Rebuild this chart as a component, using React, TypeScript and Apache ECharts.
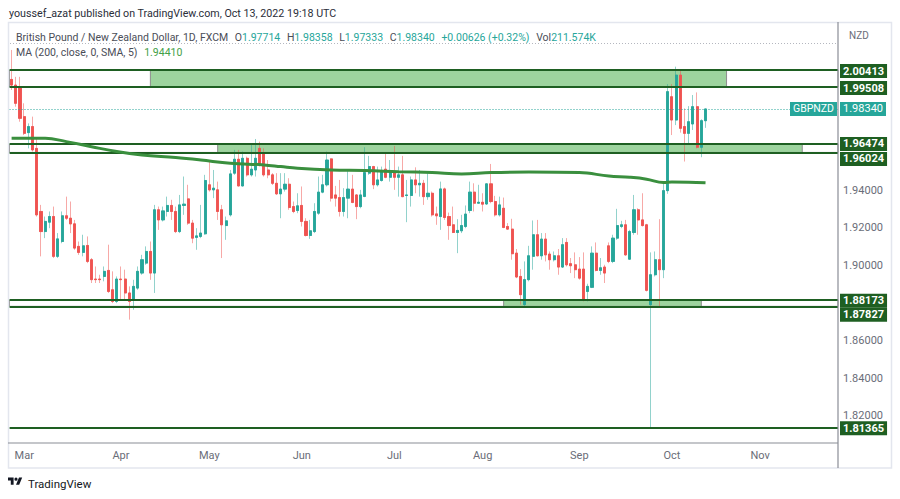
import React, { useEffect, useRef } from "react";
import * as echarts from "echarts";

// ---------- data ----------
const FIRST_SESSION = "2022-02-24";
const SLOT_COUNT = 197; // daily slots shown on the time axis (incl. empty future space)
const MONTH_NAMES = ["Jan", "Feb", "Mar", "Apr", "May", "Jun", "Jul", "Aug", "Sep", "Oct", "Nov", "Dec"];

const open = [
  1.9991, 1.9961, 1.9952, 1.9793, 1.9708, 1.974, 1.9624, 1.9288, 1.9181, 1.9231,
  1.9261, 1.9049, 1.9128, 1.9265, 1.9252, 1.9222, 1.9102, 1.907, 1.9107, 1.9031,
  1.8928, 1.8928, 1.8942, 1.8974, 1.8871, 1.8809, 1.8928, 1.8928, 1.8854, 1.8818,
  1.888, 1.896, 1.9013, 1.9075, 1.896, 1.9297, 1.9243, 1.9288, 1.932, 1.9288,
  1.9181, 1.932, 1.9355, 1.9226, 1.915, 1.9155, 1.9169, 1.943, 1.9403, 1.9403,
  1.9297, 1.9213, 1.927, 1.9492, 1.9566, 1.9424, 1.9571, 1.9483, 1.9509, 1.9624,
  1.9598, 1.9509, 1.9483, 1.9438, 1.9382, 1.9407, 1.9433, 1.9314, 1.9293, 1.932,
  1.9235, 1.916, 1.9181, 1.9279, 1.9391, 1.943, 1.9568, 1.9376, 1.9362, 1.9288,
  1.9359, 1.9407, 1.9376, 1.9314, 1.9368, 1.9492, 1.9527, 1.943, 1.9453, 1.9513,
  1.947, 1.9495, 1.947, 1.9483, 1.9373, 1.9373, 1.9456, 1.943, 1.9438, 1.9367,
  1.9385, 1.9275, 1.9261, 1.9408, 1.9261, 1.9217, 1.9176, 1.9185, 1.9208, 1.9293,
  1.9391, 1.9332, 1.9337, 1.9328, 1.9435, 1.9341, 1.927, 1.9305, 1.9208, 1.9194,
  1.9066, 1.8942, 1.8792, 1.8925, 1.9049, 1.9164, 1.9052, 1.9141, 1.9061, 1.9031,
  1.9052, 1.8992, 1.9123, 1.901, 1.9004, 1.8981, 1.8981, 1.8862, 1.8884, 1.9066,
  1.8974, 1.8992, 1.9105, 1.9022, 1.9146, 1.9208, 1.9217, 1.9034, 1.9176, 1.9297,
  1.9243, 1.9217, 1.8792, 1.8951, 1.9031, 1.8978, 1.9399, 1.9899, 1.9775, 2.0014,
  1.974, 1.9704, 1.9754, 1.9846, 1.963, 1.97714,
];
const high = [
  2.0148, 2.0005, 2.0005, 1.9864, 1.9757, 1.9793, 1.9678, 1.9323, 1.9261, 1.9288,
  1.9314, 1.9173, 1.9288, 1.9367, 1.9341, 1.9243, 1.9128, 1.9164, 1.9155, 1.904,
  1.8995, 1.8951, 1.8995, 1.9111, 1.8969, 1.8942, 1.8995, 1.8978, 1.8889, 1.8924,
  1.8995, 1.9057, 1.9102, 1.9128, 1.9323, 1.9314, 1.9314, 1.9367, 1.935, 1.9314,
  1.9376, 1.9474, 1.943, 1.9243, 1.9199, 1.9323, 1.9483, 1.9554, 1.9509, 1.9447,
  1.9323, 1.9261, 1.9509, 1.9616, 1.9616, 1.9607, 1.958, 1.9651, 1.9674, 1.966,
  1.9624, 1.9562, 1.9492, 1.9492, 1.9492, 1.9492, 1.9465, 1.9341, 1.9385, 1.9421,
  1.9252, 1.9243, 1.9332, 1.9474, 1.9483, 1.9607, 1.9571, 1.9424, 1.9456, 1.9412,
  1.9509, 1.9483, 1.938, 1.9403, 1.963, 1.9584, 1.9531, 1.9527, 1.9527, 1.9598,
  1.9562, 1.9637, 1.9527, 1.9584, 1.9456, 1.9474, 1.9523, 1.9509, 1.9456, 1.9492,
  1.9394, 1.9314, 1.9447, 1.9415, 1.9282, 1.9314, 1.9247, 1.927, 1.932, 1.9447,
  1.9438, 1.943, 1.9385, 1.9438, 1.9541, 1.9371, 1.9367, 1.9362, 1.9226, 1.9249,
  1.9088, 1.8981, 1.9022, 1.9105, 1.924, 1.9243, 1.9173, 1.9173, 1.9075, 1.9075,
  1.9088, 1.9146, 1.9146, 1.904, 1.907, 1.9045, 1.907, 1.8903, 1.9102, 1.9123,
  1.904, 1.9004, 1.9123, 1.9164, 1.9302, 1.9238, 1.9243, 1.919, 1.9376, 1.9305,
  1.9385, 1.9222, 1.907, 1.9075, 1.9247, 1.9447, 1.9966, 1.9966, 2.0059, 2.0044,
  1.9837, 1.9849, 1.9908, 1.9922, 1.9779, 1.98358,
];
const low = [
  1.9935, 1.9846, 1.9766, 1.9695, 1.9624, 1.9607, 1.9261, 1.9049, 1.9146, 1.9199,
  1.904, 1.904, 1.9119, 1.9243, 1.9173, 1.9084, 1.9057, 1.9049, 1.9013, 1.8907,
  1.8907, 1.8907, 1.8916, 1.8854, 1.88, 1.88, 1.8818, 1.8818, 1.8712, 1.8765,
  1.8871, 1.8951, 1.9004, 1.8924, 1.8854, 1.919, 1.9235, 1.9261, 1.9243, 1.9173,
  1.9173, 1.927, 1.9217, 1.9119, 1.9084, 1.9146, 1.9164, 1.9394, 1.9359, 1.9243,
  1.904, 1.9137, 1.9261, 1.9483, 1.9421, 1.9421, 1.9474, 1.9474, 1.9474, 1.9527,
  1.9474, 1.9465, 1.9429, 1.9376, 1.9252, 1.9394, 1.9297, 1.9279, 1.9279, 1.9208,
  1.9155, 1.9142, 1.9173, 1.927, 1.9385, 1.9421, 1.9341, 1.9314, 1.9261, 1.9261,
  1.9252, 1.9332, 1.9247, 1.9305, 1.9364, 1.9483, 1.9407, 1.9421, 1.9447, 1.9465,
  1.9447, 1.9403, 1.9367, 1.9364, 1.9231, 1.9314, 1.9385, 1.9367, 1.9323, 1.935,
  1.9261, 1.9217, 1.919, 1.9243, 1.9137, 1.9173, 1.9066, 1.9173, 1.9199, 1.9279,
  1.9288, 1.933, 1.9288, 1.9323, 1.9332, 1.9261, 1.9261, 1.9199, 1.919, 1.9031,
  1.8933, 1.8792, 1.8774, 1.8916, 1.8978, 1.9049, 1.9031, 1.9022, 1.8978, 1.9022,
  1.8951, 1.8987, 1.8995, 1.896, 1.8933, 1.8925, 1.8809, 1.8809, 1.888, 1.8969,
  1.8951, 1.8907, 1.9013, 1.9013, 1.9137, 1.9199, 1.9052, 1.9031, 1.9164, 1.9164,
  1.9208, 1.8862, 1.8137, 1.8942, 1.8783, 1.8933, 1.9382, 1.9695, 1.9748, 1.9708,
  1.9554, 1.9651, 1.9722, 1.9624, 1.9577, 1.97333,
];
const close = [
  1.9961, 1.9864, 1.9784, 1.9704, 1.974, 1.9616, 1.927, 1.9181, 1.9235, 1.9261,
  1.9049, 1.9142, 1.9265, 1.9252, 1.9222, 1.9093, 1.907, 1.9105, 1.9022, 1.8925,
  1.8925, 1.8925, 1.8969, 1.8862, 1.8809, 1.8928, 1.8925, 1.8854, 1.8809, 1.8889,
  1.8969, 1.9031, 1.9075, 1.896, 1.9297, 1.9243, 1.9291, 1.932, 1.9288, 1.9181,
  1.9323, 1.9327, 1.9226, 1.9146, 1.9158, 1.9173, 1.9453, 1.9403, 1.9412, 1.9288,
  1.9217, 1.9238, 1.9488, 1.9566, 1.9424, 1.9571, 1.9483, 1.9513, 1.9571, 1.9536,
  1.9483, 1.9483, 1.9438, 1.9382, 1.9407, 1.9433, 1.9309, 1.9288, 1.9318, 1.9235,
  1.916, 1.9185, 1.9288, 1.9391, 1.943, 1.9562, 1.9359, 1.9359, 1.9288, 1.9362,
  1.9407, 1.9336, 1.9314, 1.9376, 1.9495, 1.9527, 1.943, 1.9456, 1.95, 1.947,
  1.9495, 1.947, 1.9483, 1.9367, 1.9376, 1.9456, 1.943, 1.9438, 1.9367, 1.9385,
  1.927, 1.9265, 1.9408, 1.9256, 1.9213, 1.9176, 1.9187, 1.9213, 1.9274, 1.9391,
  1.9332, 1.9337, 1.9327, 1.9435, 1.9341, 1.927, 1.9323, 1.9203, 1.9194, 1.9063,
  1.8939, 1.8845, 1.8925, 1.9052, 1.9164, 1.9052, 1.9141, 1.9057, 1.9031, 1.9052,
  1.8992, 1.9111, 1.9004, 1.8999, 1.8978, 1.8933, 1.8818, 1.8889, 1.9066, 1.8974,
  1.8988, 1.896, 1.9022, 1.9146, 1.9213, 1.9217, 1.9057, 1.9181, 1.9297, 1.9243,
  1.9213, 1.8868, 1.8951, 1.9031, 1.8978, 1.9399, 1.9926, 1.9775, 2.0014, 1.9731,
  1.9704, 1.9766, 1.9846, 1.963, 1.97714, 1.9834,
];

// MA (200, close) at a few sessions
const maDates = [
  "2022-02-24", "2022-03-08", "2022-03-15", "2022-03-23", "2022-03-31", "2022-04-08",
  "2022-04-20", "2022-04-28", "2022-05-09", "2022-05-19", "2022-05-25", "2022-05-31",
  "2022-06-10", "2022-06-22", "2022-07-04", "2022-07-14", "2022-07-25", "2022-08-03",
  "2022-08-16", "2022-09-01", "2022-09-12", "2022-09-19", "2022-09-23", "2022-09-29",
  "2022-10-03", "2022-10-07", "2022-10-13",
];
const maValues = [
  1.9678, 1.9678, 1.966, 1.9633, 1.9607, 1.9589,
  1.9575, 1.9562, 1.9545, 1.9536, 1.9527, 1.9518,
  1.9509, 1.9506, 1.95, 1.9495, 1.9488, 1.9495,
  1.9498, 1.9495, 1.9477, 1.947, 1.946, 1.9442,
  1.9445, 1.9444, 1.9441,
];

// horizontal levels and supply/demand zones
const levelPrices = [2.00413, 1.99508, 1.96474, 1.96024, 1.88173, 1.87827, 1.81365];
const zoneTops = [2.00413, 1.96474, 1.88173];
const zoneBottoms = [1.99508, 1.96024, 1.87827];
const zoneFrom = ["2022-04-12", "2022-05-04", "2022-08-08"];
const zoneTo = ["2022-10-20", "2022-11-15", "2022-10-12"];

// tick labels of the price scale that are not covered by level tags
const priceTicks = [1.82, 1.84, 1.86, 1.9, 1.92, 1.94];

const SYMBOL = "GBPNZD";
const LAST_VOLUME = "211.574K";

// ---------- styling ----------
const FONT = "Roboto";
const UP = "#26a69a";
const DOWN = "#ef5350";
const UP_WICK = "rgba(38,166,154,0.5)";
const DOWN_WICK = "rgba(239,83,80,0.5)";
const LEVEL_GREEN = "#1e5f22";
const ZONE_FILL = "#9dd49e";
const ZONE_EDGE = "#8d8d8d";
const AXIS_TEXT = "#6a6d78";
const Y_MIN = 1.8055;
const Y_MAX = 2.0297;
const labelShift = [1, 1, 0, 6.5, 1, 8.5, 0.5];

const TV_LOGO =
  "M14 22H7V11H0V4h14v18zM28 22h-8l7.5-18h8L28 22zM24 8a4 4 0 1 1-8 0a4 4 0 1 1 8 0z";
echarts.graphic.registerShape("tvlogo", echarts.graphic.extendPath(TV_LOGO, {}) as any);

function buildSessions(start: string, count: number): string[] {
  const out: string[] = [];
  const d = new Date(start + "T00:00:00Z");
  while (out.length < count) {
    const wd = d.getUTCDay();
    if (wd !== 0 && wd !== 6) out.push(d.toISOString().slice(0, 10));
    d.setUTCDate(d.getUTCDate() + 1);
  }
  return out;
}

function buildOption() {
  const cats = buildSessions(FIRST_SESSION, SLOT_COUNT);
  const n = open.length;
  const wickData = open.map((o, i) => [o, close[i], low[i], high[i]]);
  const bodyData = open.map((o, i) => [o, close[i], Math.min(o, close[i]), Math.max(o, close[i])]);
  const last = n - 1;
  const chg = close[last] - close[last - 1];
  const pct = (chg / close[last - 1]) * 100;
  const sign = chg >= 0 ? "+" : "";

  const legend1 =
    "{t|British Pound / New Zealand Dollar, 1D, FXCM}  " +
    `{t|O}{v|${open[last].toFixed(5)}}  {t|H}{v|${high[last].toFixed(5)}}  ` +
    `{t|L}{v|${low[last].toFixed(5)}}  {t|C}{v|${close[last].toFixed(5)}}  ` +
    `{v|${sign}${chg.toFixed(5)} (${sign}${pct.toFixed(2)}%)}  {t|Vol}{v|${LAST_VOLUME}}`;
  const legend2 = `{t|MA (200, close, 0, SMA, 5)}  {m|${maValues[maValues.length - 1].toFixed(5)}}`;

  const richBase = { fontFamily: FONT, fontSize: 10.5 };
  const tagLabel = (text: string, bg: string, bold: boolean) => ({
    show: true,
    position: "end",
    formatter: text,
    backgroundColor: bg,
    color: "#ffffff",
    fontWeight: bold ? "bold" : "normal",
    fontSize: 11,
    fontFamily: FONT,
    lineHeight: 11,
    padding: [2, 3, 1, 3],
    distance: 2,
  });

  return {
    animation: false,
    backgroundColor: "#ffffff",
    textStyle: { fontFamily: FONT },
    grid: { left: 9.5, right: 62, top: 22, bottom: 56, containLabel: false },
    xAxis: {
      type: "category",
      data: cats,
      boundaryGap: true,
      axisLine: { show: false },
      axisTick: { show: false },
      splitLine: { show: false },
      axisLabel: {
        interval: (index: number, value: string) =>
          index > 0 && value.slice(5, 7) !== cats[index - 1].slice(5, 7),
        formatter: (value: string) => MONTH_NAMES[parseInt(value.slice(5, 7), 10) - 1],
        color: AXIS_TEXT,
        fontSize: 11,
        fontFamily: FONT,
        margin: 7,
      },
    },
    yAxis: {
      type: "value",
      position: "right",
      min: Y_MIN,
      max: Y_MAX,
      scale: true,
      splitLine: { show: false },
      axisLine: { show: false },
      axisTick: { show: false },
      axisLabel: {
        customValues: priceTicks,
        formatter: (v: number) => v.toFixed(5),
        color: AXIS_TEXT,
        fontSize: 11,
        fontFamily: FONT,
        margin: 5,
      },
    },
    series: [
      {
        type: "line",
        name: "zones",
        data: [],
        z: 1,
        silent: true,
        markArea: {
          silent: true,
          data: [
            ...zoneTops.map((t, i) => [
              { yAxis: t, itemStyle: { color: "#ffffff", borderColor: ZONE_EDGE, borderWidth: 1 } },
              { yAxis: zoneBottoms[i] },
            ]),
            ...zoneTops.map((t, i) => [
              { xAxis: zoneFrom[i], yAxis: t, itemStyle: { color: ZONE_FILL, borderColor: ZONE_EDGE, borderWidth: 1 } },
              { xAxis: zoneTo[i], yAxis: zoneBottoms[i] },
            ]),
          ],
        },
      },
      {
        type: "line",
        name: "levels",
        data: [],
        z: 2,
        silent: true,
        markLine: {
          silent: true,
          symbol: "none",
          precision: 5,
          data: [
            ...levelPrices.map((v, i) => ({
              yAxis: v,
              lineStyle: { color: LEVEL_GREEN, width: 2, type: "solid" },
              label: { ...tagLabel(v.toFixed(5), LEVEL_GREEN, true), offset: [0, labelShift[i]] },
            })),
            {
              yAxis: close[last],
              lineStyle: { color: UP, width: 1, type: [1, 2] },
              label: tagLabel(close[last].toFixed(5), UP, false),
            },
            {
              yAxis: close[last],
              lineStyle: { color: "rgba(0,0,0,0)", width: 1 },
              label: { ...tagLabel(SYMBOL, UP, false), position: "insideEnd", fontSize: 10.5, distance: 1 },
            },
          ],
        },
      },
      {
        type: "candlestick",
        name: "wicks",
        data: wickData,
        z: 3,
        barWidth: 2.6,
        silent: true,
        itemStyle: { color: UP_WICK, color0: DOWN_WICK, borderColor: UP_WICK, borderColor0: DOWN_WICK, borderWidth: 1 },
      },
      {
        type: "candlestick",
        name: SYMBOL,
        data: bodyData,
        z: 4,
        barWidth: 2.6,
        itemStyle: { color: UP, color0: DOWN, borderColor: UP, borderColor0: DOWN, borderWidth: 0.8 },
      },
      {
        type: "line",
        name: "MA 200",
        data: maDates.map((d, i) => [d, maValues[i]]),
        smooth: 0.4,
        showSymbol: false,
        z: 5,
        lineStyle: { color: "#3a8f3e", width: 3 },
      },
    ],
    graphic: [
      { type: "rect", shape: { x: 8.5, y: 22.5, width: 883, height: 445.5 }, style: { fill: "none", stroke: "#e3e6ee", lineWidth: 1.5 }, silent: true, z: 10 },
      { type: "line", shape: { x1: 838, y1: 22, x2: 838, y2: 468 }, style: { stroke: "#8a8d96", lineWidth: 1.2 }, silent: true, z: 10 },
      { type: "line", shape: { x1: 8, y1: 443, x2: 838, y2: 443 }, style: { stroke: "#8a8d96", lineWidth: 1.2 }, silent: true, z: 10 },
      { type: "line", shape: { x1: 10, y1: 43.5, x2: 836, y2: 43.5 }, style: { stroke: "#b4b7bf", lineWidth: 1, lineDash: [1, 2] }, silent: true, z: 10 },
      { type: "text", x: 9, y: 13.5, style: { text: "youssef_azat published on TradingView.com, Oct 13, 2022 19:18 UTC", fill: "#2a2e39", font: `10.7px ${FONT}`, verticalAlign: "middle" }, silent: true, z: 10 },
      { type: "text", x: 16, y: 37, style: { text: legend1, verticalAlign: "middle", rich: { t: { ...richBase, fill: "#4a4d57" }, v: { ...richBase, fill: UP } } }, silent: true, z: 10 },
      { type: "text", x: 16, y: 52.5, style: { text: legend2, verticalAlign: "middle", rich: { t: { ...richBase, fill: "#4a4d57" }, m: { ...richBase, fill: "#43a047" } } }, silent: true, z: 10 },
      { type: "text", x: 849, y: 35, style: { text: "NZD", fill: AXIS_TEXT, font: `10px ${FONT}`, verticalAlign: "middle" }, silent: true, z: 10 },
      { type: "tvlogo", x: 8, y: 476, scaleX: 0.4, scaleY: 0.4, style: { fill: "#131722" }, silent: true, z: 10 },
      { type: "text", x: 28, y: 484, style: { text: "TradingView", fill: "#131722", font: `11.5px ${FONT}`, verticalAlign: "middle" }, silent: true, z: 10 },
    ],
  };
}

export default function App() {
  const ref = useRef<HTMLDivElement | null>(null);
  useEffect(() => {
    if (!ref.current) return;
    const chart = echarts.init(ref.current, undefined, { renderer: "svg" });
    chart.setOption(buildOption() as any);
    return () => chart.dispose();
  }, []);
  return (
    <div
      ref={ref}
      style={{ position: "fixed", left: 0, top: 0, width: 900, height: 499, background: "#fff" }}
    />
  );
}
